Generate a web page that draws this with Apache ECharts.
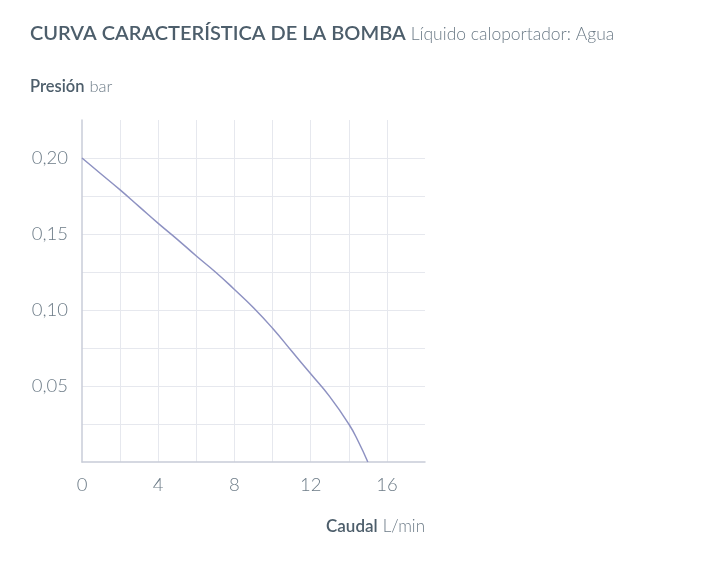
<!DOCTYPE html>
<html>
<head>
<meta charset="utf-8">
<script src="https://cdn.jsdelivr.net/npm/echarts@6/dist/echarts.min.js"></script>
<style>
  html, body { margin: 0; padding: 0; background: #fff; }
  #chart { width: 720px; height: 569px; }
</style>
</head>
<body>
<div id="chart"></div>
<script>
// Données
const caudal = [0, 1, 2, 3, 4, 5, 6, 7, 8, 9, 10, 11, 12, 13, 14, 14.5, 15];
const presion = [0.200, 0.1895, 0.179, 0.168, 0.157, 0.1465, 0.1355, 0.125, 0.1135, 0.1015, 0.088, 0.073, 0.058, 0.043, 0.025, 0.0135, 0];
const xTicks = [0, 4, 8, 12, 16];
const yTicks = [0.05, 0.10, 0.15, 0.20];

const chart = echarts.init( document.getElementById( 'chart' ) );
const font = 'Lato';
const textColor = '#4d5e6b';
const labelColor = '#6c7b87';

const option = {
  animation: false,
  title: [
    {
      left: 30, top: 24, padding: 0,
      text: '{b|CURVA CARACTERÍSTICA DE LA BOMBA} {l|Líquido caloportador: Agua}',
      textStyle: {
        rich: {
          b: { fontFamily: font, fontSize: 20, fontWeight: 600, color: textColor },
          l: { fontFamily: font, fontSize: 17.5, fontWeight: 300, color: labelColor }
        }
      }
    },
    {
      left: 30, top: 78, padding: 0,
      text: '{b|Presión} {l|bar}',
      textStyle: {
        rich: {
          b: { fontFamily: font, fontSize: 16.5, fontWeight: 600, color: textColor },
          l: { fontFamily: font, fontSize: 16.5, fontWeight: 300, color: labelColor }
        }
      }
    },
    {
      right: 295, top: 518, padding: 0,
      text: '{b|Caudal} {l|L/min}',
      textStyle: {
        rich: {
          b: { fontFamily: font, fontSize: 17, fontWeight: 600, color: textColor },
          l: { fontFamily: font, fontSize: 17, fontWeight: 300, color: labelColor }
        }
      }
    }
  ],
  grid: { left: 82, top: 120, width: 343, height: 342, containLabel: false },
  xAxis: {
    type: 'value', min: 0, max: 18, interval: 2,
    axisLine: { show: true, lineStyle: { color: '#c8ccd8', width: 1.5 } },
    axisTick: { show: false },
    axisLabel: {
      margin: 14, fontFamily: font, fontSize: 18.5, fontWeight: 300, color: labelColor,
      formatter: ( v ) => xTicks.includes( v ) ? String( v ) : ''
    },
    splitLine: { show: true, showMinLine: false, showMaxLine: false, lineStyle: { color: '#e6e8ee', width: 1 } }
  },
  yAxis: {
    type: 'value', min: 0, max: 0.225, interval: 0.025,
    axisLine: { show: true, lineStyle: { color: '#c8ccd8', width: 1.5 } },
    axisTick: { show: false },
    axisLabel: {
      margin: 14, fontFamily: font, fontSize: 18.5, fontWeight: 300, color: labelColor,
      formatter: ( v ) => {
        const hit = yTicks.find( ( t ) => Math.abs( t - v ) < 1e-6 );
        return hit !== undefined ? hit.toFixed( 2 ).replace( '.', ',' ) : '';
      }
    },
    splitLine: { show: true, showMinLine: false, showMaxLine: false, lineStyle: { color: '#e6e8ee', width: 1 } }
  },
  series: [
    {
      type: 'line',
      data: caudal.map( ( x, i ) => [ x, presion[ i ] ] ),
      smooth: 0.5,
      symbol: 'none',
      lineStyle: { color: '#8e92c2', width: 1.5 }
    }
  ]
};

chart.setOption( option );
</script>
</body>
</html>
